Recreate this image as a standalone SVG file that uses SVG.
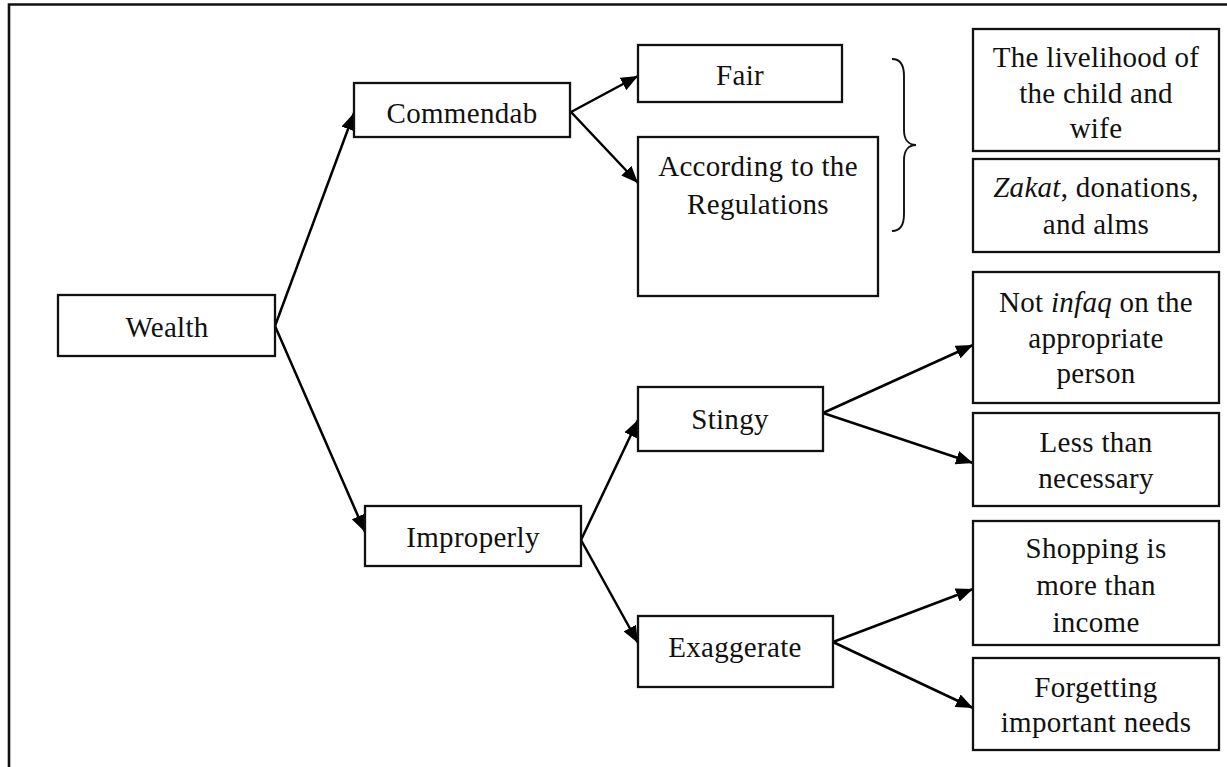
<svg xmlns="http://www.w3.org/2000/svg" width="1227" height="767" viewBox="0 0 1227 767">
  <defs>
    <marker id="arrow" markerUnits="userSpaceOnUse" markerWidth="18" markerHeight="14" refX="17" refY="7" orient="auto">
      <path d="M0,0 L17,7 L0,14 z" fill="#000"/>
    </marker>
    <style>
      .box { fill: #fff; stroke: #111; stroke-width: 2.3; }
      .lbl { font-family: "Liberation Serif", "DejaVu Serif", serif; font-size: 29px; fill: #111; text-anchor: middle; letter-spacing: 0.3px; }
      .edge { stroke: #000; stroke-width: 2.5; fill: none; marker-end: url(#arrow); }
    </style>
  </defs>
  <rect width="1227" height="767" fill="#fff"/>

  <!-- page frame (top and left borders) -->
  <path d="M9,767 V4.5 H1227" fill="none" stroke="#111" stroke-width="2.6"/>

  <!-- connectors -->
  <g id="connectors">
    <line class="edge" x1="275" y1="326" x2="354" y2="113"/>
    <line class="edge" x1="275" y1="326" x2="365" y2="532"/>
    <line class="edge" x1="571" y1="112" x2="638" y2="76"/>
    <line class="edge" x1="571" y1="112" x2="638" y2="183"/>
    <line class="edge" x1="581" y1="540" x2="638" y2="420"/>
    <line class="edge" x1="581" y1="540" x2="638" y2="643"/>
    <line class="edge" x1="823" y1="413" x2="973" y2="345"/>
    <line class="edge" x1="823" y1="413" x2="973" y2="463"/>
    <line class="edge" x1="833" y1="642" x2="973" y2="589"/>
    <line class="edge" x1="833" y1="642" x2="973" y2="708"/>
    <!-- curly brace -->
    <path d="M892,59 C900,59 904,65 904,76 L904,130 C904,140 909,145 916,145 C909,145 904,150 904,160 L904,214 C904,225 900,231 892,231" fill="none" stroke="#111" stroke-width="1.9"/>
  </g>

  <g id="wealth">
    <rect class="box" x="58" y="295" width="217" height="61"/>
    <text class="lbl" x="167" y="337">Wealth</text>
  </g>

  <g id="commendab">
    <rect class="box" x="354" y="83" width="216" height="54"/>
    <text class="lbl" x="462" y="123">Commendab</text>
  </g>

  <g id="fair">
    <rect class="box" x="638" y="45" width="204" height="57"/>
    <text class="lbl" x="740" y="85">Fair</text>
  </g>

  <g id="regulations">
    <rect class="box" x="638" y="137" width="240" height="159"/>
    <text class="lbl" x="758" y="176">According to the</text>
    <text class="lbl" x="758" y="214">Regulations</text>
  </g>

  <g id="livelihood">
    <rect class="box" x="973" y="29" width="246" height="122"/>
    <text class="lbl" x="1096" y="67">The livelihood of</text>
    <text class="lbl" x="1096" y="103">the child and</text>
    <text class="lbl" x="1096" y="138">wife</text>
  </g>

  <g id="zakat">
    <rect class="box" x="973" y="159" width="246" height="93"/>
    <text class="lbl" x="1096" y="197"><tspan font-style="italic">Zakat</tspan>, donations,</text>
    <text class="lbl" x="1096" y="234">and alms</text>
  </g>

  <g id="improperly">
    <rect class="box" x="365" y="506" width="216" height="60"/>
    <text class="lbl" x="473" y="547">Improperly</text>
  </g>

  <g id="stingy">
    <rect class="box" x="638" y="387" width="185" height="64"/>
    <text class="lbl" x="730" y="429">Stingy</text>
  </g>

  <g id="exaggerate">
    <rect class="box" x="638" y="616" width="195" height="71"/>
    <text class="lbl" x="735" y="657">Exaggerate</text>
  </g>

  <g id="not-infaq">
    <rect class="box" x="973" y="272" width="246" height="131"/>
    <text class="lbl" x="1096" y="312">Not <tspan font-style="italic">infaq</tspan> on the</text>
    <text class="lbl" x="1096" y="348">appropriate</text>
    <text class="lbl" x="1096" y="383">person</text>
  </g>

  <g id="less-than">
    <rect class="box" x="973" y="413" width="246" height="93"/>
    <text class="lbl" x="1096" y="452">Less than</text>
    <text class="lbl" x="1096" y="488">necessary</text>
  </g>

  <g id="shopping">
    <rect class="box" x="973" y="521" width="246" height="124"/>
    <text class="lbl" x="1096" y="558">Shopping is</text>
    <text class="lbl" x="1096" y="595">more than</text>
    <text class="lbl" x="1096" y="632">income</text>
  </g>

  <g id="forgetting">
    <rect class="box" x="973" y="658" width="246" height="92"/>
    <text class="lbl" x="1096" y="697">Forgetting</text>
    <text class="lbl" x="1096" y="732">important needs</text>
  </g>
</svg>
